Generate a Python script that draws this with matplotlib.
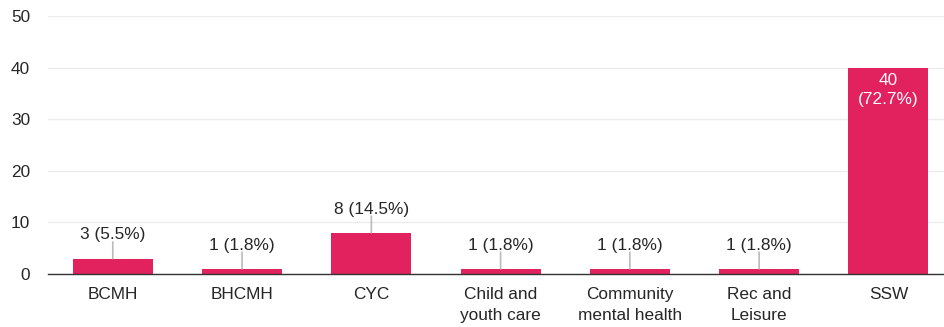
import matplotlib
matplotlib.use("Agg")
import matplotlib.pyplot as plt

plt.rcParams['font.family'] = ['Liberation Sans', 'DejaVu Sans']

categories = ["BCMH", "BHCMH", "CYC", "Child and\nyouth care", "Community\nmental health", "Rec and\nLeisure", "SSW"]
counts = [3, 1, 8, 1, 1, 1, 40]
percents = [5.5, 1.8, 14.5, 1.8, 1.8, 1.8, 72.7]
yticks = [0, 10, 20, 30, 40, 50]

bar_color = "#e2215f"
text_color = "#262626"
fs = 12.4

fig = plt.figure(figsize=(9.44, 3.27), dpi=100)
ax = fig.add_axes([0.051, 0.162, 0.949, 0.789])

x = list(range(len(categories)))
ax.bar(x, counts, width=0.62, color=bar_color, zorder=3)

ax.set_xlim(-0.5, 6.43)
ax.set_ylim(0, 50)
ax.set_yticks(yticks)
ax.set_xticks(x)
ax.set_xticklabels(categories, fontsize=fs, color=text_color, linespacing=1.55, va="top")
ax.tick_params(axis="x", length=0, pad=9)
ax.tick_params(axis="y", length=0, pad=13, labelsize=fs, labelcolor=text_color)

ax.grid(axis="y", color="#ececec", linewidth=1, zorder=0)
for side in ("left", "right", "top"):
    ax.spines[side].set_visible(False)
ax.spines["bottom"].set_color("#333333")
ax.spines["bottom"].set_linewidth(1.0)
ax.spines["bottom"].set_zorder(4)

for xi, c, p in zip(x, counts, percents):
    if c >= 20:
        ax.annotate(f"{c}\n({p}%)", (xi, c), xytext=(0, -4), textcoords="offset points",
                    ha="center", va="top", color="white", fontsize=fs, linespacing=1.3, zorder=5)
    else:
        ax.annotate("", (xi, c), xytext=(0, 12), textcoords="offset points",
                    arrowprops=dict(arrowstyle="-", color="#bbbbbb", lw=1.2, shrinkA=0, shrinkB=0),
                    zorder=4)
        ax.annotate(f"{c} ({p}%)", (xi, c), xytext=(0, 17), textcoords="offset points",
                    ha="center", va="center", color=text_color, fontsize=fs, zorder=5)

fig.savefig("out.png", dpi=100)
